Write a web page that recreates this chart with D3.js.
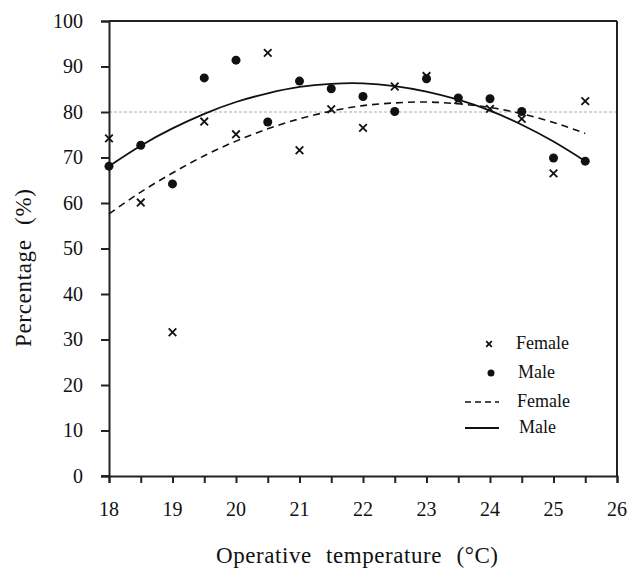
<!DOCTYPE html>
<html>
<head>
<meta charset="utf-8">
<script src="https://cdn.jsdelivr.net/npm/d3@7"></script>
<style>
  html, body { margin: 0; padding: 0; background: #fff; }
</style>
</head>
<body>
<svg id="chart" width="629" height="572"></svg>
<script>
// Operative temperature (°C) at which each observation was taken
const temperatures = [18, 18.5, 19, 19.5, 20, 20.5, 21, 21.5, 22, 22.5, 23, 23.5, 24, 24.5, 25, 25.5];

// Observed percentages
const femaleObserved = [74.2, 60.1, 31.6, 77.9, 75.1, 93.0, 71.6, 80.6, 76.5, 85.6, 87.9, 82.6, 80.7, 78.5, 66.5, 82.4];
const maleObserved   = [68.1, 72.7, 64.2, 87.5, 91.4, 77.8, 86.8, 85.1, 83.4, 80.1, 87.3, 83.1, 82.9, 80.1, 69.9, 69.2];

// Quadratic trend lines evaluated at the same temperatures
const femaleTrend = [57.6, 62.4, 66.6, 70.4, 73.6, 76.3, 78.5, 80.2, 81.4, 82.0, 82.2, 81.8, 81.0, 79.6, 77.7, 75.3];
const maleTrend   = [68.1, 72.6, 76.4, 79.6, 82.2, 84.1, 85.5, 86.2, 86.3, 85.7, 84.5, 82.7, 80.3, 77.2, 73.5, 69.2];

// Axis ticks and reference level
const xTicks = [18, 19, 20, 21, 22, 23, 24, 25, 26];
const xMinorTicks = d3.range(18, 26.01, 0.5);
const yTicks = [0, 10, 20, 30, 40, 50, 60, 70, 80, 90, 100];
const referenceLevel = 80;

const FONT = '"Liberation Serif", "Times New Roman", Times, serif';
const INK = "#111";

const svg = d3.select("#chart");
const plot = { left: 109, right: 617, top: 21, bottom: 476 };

const x = d3.scaleLinear().domain([18, 26]).range([plot.left, plot.right]);
const y = d3.scaleLinear().domain([0, 100]).range([plot.bottom, plot.top]);

const axisColor = "#222";

// Reference line
svg.append("line")
  .attr("x1", x(18)).attr("x2", x(26))
  .attr("y1", y(referenceLevel)).attr("y2", y(referenceLevel))
  .attr("stroke", "#aaa").attr("stroke-width", 1)
  .attr("stroke-dasharray", "3,2");

// Frame: top and right edges
svg.append("line")
  .attr("x1", x(18)).attr("x2", x(26)).attr("y1", y(100)).attr("y2", y(100))
  .attr("stroke", axisColor).attr("stroke-width", 2);
svg.append("line")
  .attr("x1", x(26)).attr("x2", x(26)).attr("y1", y(100)).attr("y2", y(0))
  .attr("stroke", axisColor).attr("stroke-width", 2);

// Y axis
const yAxis = svg.append("g")
  .attr("transform", `translate(${plot.left},0)`)
  .call(d3.axisLeft(y).tickValues(yTicks).tickSize(8).tickPadding(18).tickFormat(d3.format("d")));
yAxis.select(".domain").attr("stroke", axisColor).attr("stroke-width", 2);
yAxis.selectAll(".tick line").attr("stroke", axisColor).attr("stroke-width", 2);
yAxis.selectAll(".tick text")
  .style("font-family", FONT).style("font-size", "20px").attr("fill", INK);

// X axis: minor ticks every half degree, labels on whole degrees
const xAxis = svg.append("g")
  .attr("transform", `translate(0,${plot.bottom})`)
  .call(d3.axisBottom(x).tickValues(xMinorTicks).tickSize(7).tickFormat(""));
xAxis.select(".domain").attr("stroke", axisColor).attr("stroke-width", 2);
xAxis.selectAll(".tick line").attr("stroke", axisColor).attr("stroke-width", 2);

svg.append("g").selectAll("text")
  .data(xTicks).join("text")
  .attr("x", d => x(d))
  .attr("y", plot.bottom + 40)
  .attr("text-anchor", "middle")
  .style("font-family", FONT).style("font-size", "20px").attr("fill", INK)
  .text(d => d);

// Extend the axis line slightly left of the origin
svg.append("line")
  .attr("x1", plot.left - 8).attr("x2", plot.left).attr("y1", plot.bottom).attr("y2", plot.bottom)
  .attr("stroke", axisColor).attr("stroke-width", 2);

// Axis titles
svg.append("text")
  .attr("transform", "translate(31,268) rotate(-90)")
  .attr("text-anchor", "middle")
  .attr("textLength", 158).attr("lengthAdjust", "spacing")
  .style("font-family", FONT).style("font-size", "23px").style("word-spacing", "8px").attr("fill", INK)
  .text("Percentage (%)");

svg.append("text")
  .attr("x", 357).attr("y", 563)
  .attr("text-anchor", "middle")
  .attr("textLength", 282).attr("lengthAdjust", "spacing")
  .style("font-family", FONT).style("font-size", "23px").style("word-spacing", "8px").attr("fill", INK)
  .text("Operative temperature (°C)");

// Trend lines
const line = d3.line().x(d => x(d[0])).y(d => y(d[1])).curve(d3.curveNatural);

svg.append("path")
  .datum(temperatures.map((t, i) => [t, femaleTrend[i]]))
  .attr("d", line).attr("fill", "none")
  .attr("stroke", INK).attr("stroke-width", 1.6)
  .attr("stroke-dasharray", "7,5");

svg.append("path")
  .datum(temperatures.map((t, i) => [t, maleTrend[i]]))
  .attr("d", line).attr("fill", "none")
  .attr("stroke", INK).attr("stroke-width", 1.8);

// Female observations are drawn as crosses
const cross = (g, cx, cy, s) => {
  g.append("path")
    .attr("d", `M${cx - s},${cy - s}L${cx + s},${cy + s}M${cx - s},${cy + s}L${cx + s},${cy - s}`)
    .attr("stroke", INK).attr("stroke-width", 1.8).attr("fill", "none");
};

// Male observations (dots)
svg.append("g").selectAll("circle")
  .data(temperatures.map((t, i) => [t, maleObserved[i]]))
  .join("circle")
  .attr("cx", d => x(d[0])).attr("cy", d => y(d[1]))
  .attr("r", 4.5).attr("fill", INK);

const crosses = svg.append("g");
temperatures.forEach((t, i) => cross(crosses, x(t), y(femaleObserved[i]), 3.8));

// Legend
const legend = svg.append("g");
const legendText = (tx, ty, label) => legend.append("text")
  .attr("x", tx).attr("y", ty)
  .style("font-family", FONT).style("font-size", "18px").attr("fill", INK)
  .text(label);
cross(legend, 489, 344, 2.8);
legendText(516, 349, "Female");
legend.append("circle").attr("cx", 491).attr("cy", 373).attr("r", 3.5).attr("fill", INK);
legendText(518, 378, "Male");
legend.append("line").attr("x1", 465).attr("x2", 499).attr("y1", 402).attr("y2", 402)
  .attr("stroke", INK).attr("stroke-width", 1.3).attr("stroke-dasharray", "6,4");
legendText(517, 407, "Female");
legend.append("line").attr("x1", 465).attr("x2", 499).attr("y1", 428).attr("y2", 428)
  .attr("stroke", INK).attr("stroke-width", 1.8);
legendText(519, 433, "Male");
</script>
</body>
</html>
